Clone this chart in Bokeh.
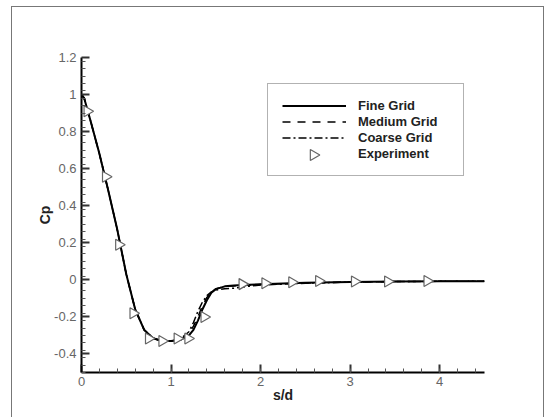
import numpy as np
from bokeh.plotting import figure
from bokeh.models import FixedTicker, Legend, LegendItem
from bokeh.embed import file_html
from bokeh.resources import INLINE

# Fine grid
fine_x = [0, 0.03, 0.1, 0.2, 0.3, 0.4, 0.5, 0.6, 0.7, 0.8, 0.9, 1.0, 1.1, 1.2, 1.25, 1.3, 1.35,
          1.4, 1.45, 1.5, 1.6, 1.7, 1.8, 2.0, 2.5, 3.0, 3.5, 4.0, 4.5]
fine_y = [1.0, 0.98, 0.86, 0.68, 0.48, 0.27, 0.03, -0.16, -0.27, -0.315, -0.33, -0.33, -0.325,
          -0.30, -0.27, -0.22, -0.16, -0.11, -0.07, -0.05, -0.035, -0.03, -0.028, -0.024,
          -0.016, -0.011, -0.009, -0.008, -0.007]
# Medium grid
med_x = fine_x
med_y = [1.0, 0.98, 0.86, 0.68, 0.48, 0.27, 0.03, -0.16, -0.27, -0.315, -0.33, -0.33, -0.322,
         -0.29, -0.25, -0.20, -0.14, -0.095, -0.065, -0.048, -0.036, -0.033, -0.03, -0.025,
         -0.017, -0.012, -0.009, -0.008, -0.007]
# Coarse grid
coarse_x = fine_x
coarse_y = [1.0, 0.98, 0.86, 0.68, 0.48, 0.27, 0.03, -0.16, -0.27, -0.315, -0.33, -0.33, -0.32,
            -0.28, -0.23, -0.17, -0.12, -0.085, -0.065, -0.055, -0.048, -0.045, -0.038, -0.028,
            -0.018, -0.012, -0.009, -0.008, -0.007]
# Experiment
exp_x = [0.064, 0.27, 0.417, 0.577, 0.75, 0.90, 1.07, 1.19, 1.37, 1.795, 2.05, 2.35, 2.65,
         3.05, 3.42, 3.86]
exp_y = [0.91, 0.556, 0.19, -0.18, -0.317, -0.33, -0.317, -0.317, -0.20, -0.023, -0.018,
         -0.013, -0.006, -0.009, -0.009, -0.006]

x_ticks = [0, 1, 2, 3, 4]
x_labels = ["0", "1", "2", "3", "4"]
y_ticks = [-0.4, -0.2, 0, 0.2, 0.4, 0.6, 0.8, 1.0, 1.2]
y_labels = ["-0.4", "-0.2", "0", "0.2", "0.4", "0.6", "0.8", "1", "1.2"]

X0, X1, Y0, Y1 = 0, 4.5, -0.5, 1.2
BL, BR, BT, BB = 69, 59, 50, 45
W, H = 531, 410

p = figure(width=W, height=H, x_range=(X0, X1), y_range=(Y0, Y1),
           output_backend="svg", toolbar_location=None,
           min_border_left=BL, min_border_right=BR, min_border_top=BT, min_border_bottom=BB,
           styles={"margin-left": "12px", "margin-top": "7px", "outline": "1px solid #777"})
p.outline_line_color = None
p.grid.visible = False
p.background_fill_color = "white"
p.border_fill_color = "white"

FONT = "Liberation Sans"
for ax in (p.xaxis[0], p.yaxis[0]):
    ax.axis_line_color = "black"
    ax.axis_line_width = 2
    ax.major_tick_in = 8
    ax.major_tick_out = 0
    ax.minor_tick_in = 4
    ax.minor_tick_out = 0
    ax.major_tick_line_color = "#333"
    ax.minor_tick_line_color = "#555"
    ax.major_tick_line_width = 2
    ax.minor_tick_line_width = 1
    ax.major_label_text_font = FONT
    ax.major_label_text_font_size = "13px"
    ax.major_label_text_color = "#666"
    ax.axis_label_text_font = FONT
    ax.axis_label_text_font_size = "14px"
    ax.axis_label_text_font_style = "bold"
    ax.axis_label_text_color = "#222"

p.xaxis.ticker = FixedTicker(ticks=x_ticks, minor_ticks=list(np.round(np.arange(0, 4.51, 0.2), 3)))
p.xaxis.major_label_overrides = dict(zip(x_ticks, x_labels))
p.yaxis.ticker = FixedTicker(ticks=y_ticks, minor_ticks=list(np.round(np.arange(-0.5, 1.201, 0.04), 3)))
p.yaxis.major_label_overrides = dict(zip(y_ticks, y_labels))
p.xaxis.axis_label = "s/d"
p.yaxis.axis_label = "Cp"
p.xaxis.major_label_standoff = 4
p.yaxis.major_label_standoff = 5
p.xaxis.axis_label_standoff = -2
p.yaxis.axis_label_standoff = -2

r_fine = p.line(fine_x, fine_y, line_color="black", line_width=2)
r_med = p.line(med_x, med_y, line_color="black", line_width=1.5, line_dash="8 7")
r_coarse = p.line(coarse_x, coarse_y, line_color="black", line_width=1.5, line_dash="8 3 2 3")
r_exp = p.scatter(exp_x, exp_y, marker="triangle", angle=-np.pi / 2, size=11,
                  line_color="#666", fill_color="white", line_width=1.2)

# legend (glyph for Experiment drawn separately, rotated)
LEG_X, LEG_Y = 186, 196   # screen offset of legend box from frame bottom-left
PAD, GW, GH, SP = 14, 64, 15, 1
r_blank = p.scatter([], [], marker="triangle", size=0, line_alpha=0, fill_alpha=0)
legend = Legend(items=[LegendItem(label="Fine Grid", renderers=[r_fine]),
                       LegendItem(label="Medium Grid", renderers=[r_med]),
                       LegendItem(label="Coarse Grid", renderers=[r_coarse]),
                       LegendItem(label="Experiment", renderers=[r_blank])],
                location=(LEG_X, LEG_Y))
legend.glyph_width = GW
legend.glyph_height = GH
legend.label_height = GH
legend.label_width = 91
legend.spacing = SP
legend.padding = PAD
legend.margin = 0
legend.label_standoff = 12
legend.label_text_font = FONT
legend.label_text_font_size = "13px"
legend.label_text_font_style = "bold"
legend.label_text_color = "#222"
legend.border_line_color = "#666"
legend.border_line_width = 1.5
legend.background_fill_alpha = 0
p.add_layout(legend, "center")

# position of the legend key for the experiment, converted from screen offsets
fw = W - BL - BR
fh = H - BT - BB
key_sx = LEG_X + PAD + GW / 2
key_sy = LEG_Y + PAD + 0.5 * GH
key_x = X0 + key_sx / fw * (X1 - X0)
key_y = Y0 + key_sy / fh * (Y1 - Y0)
r_key = p.scatter([key_x], [key_y], marker="triangle", angle=-np.pi / 2, size=11,
                  line_color="#666", fill_color="white", line_width=1.2)

open("out.html", "w").write(file_html(p, INLINE))
